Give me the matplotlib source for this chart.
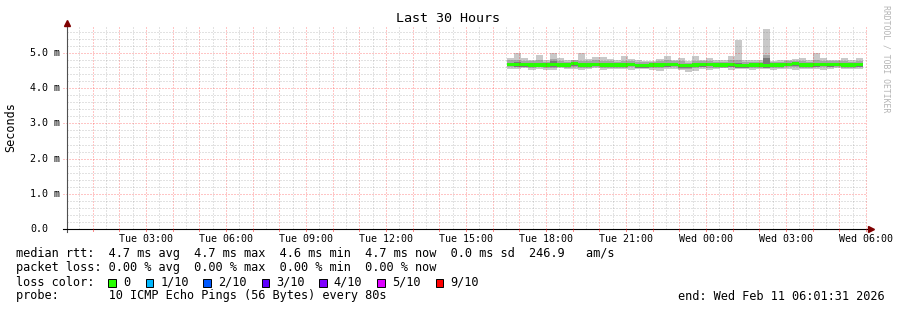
import numpy as np
import matplotlib
matplotlib.use('Agg')
import matplotlib.pyplot as plt
from matplotlib.patches import Rectangle

# smokeping "Last 30 Hours" graph, values in ms, x in hours since Tue 00:00
t_start = 0.0253          # Tue 00:01:31
t_end = 30.0253           # Wed 06:01:31
t_first = 16.54           # first consolidated row
row_h = 16 / 60.0         # 12 x 80s steps

hi = [4.88, 5.02, 4.88, 4.82, 4.96, 4.82, 5.02, 4.88, 4.82, 4.82,
      5.02, 4.84, 4.90, 4.90, 4.84, 4.80, 4.91, 4.84, 4.81, 4.78,
      4.78, 4.84, 4.93, 4.82, 4.88, 4.79, 4.91, 4.82, 4.88, 4.82,
      4.80, 4.92, 5.39, 4.81, 4.81, 4.82, 5.70, 4.79, 4.82, 4.82,
      4.84, 4.88, 4.82, 5.01, 4.88, 4.82, 4.82, 4.88, 4.82, 4.88]
lo = [4.55, 4.54, 4.57, 4.52, 4.55, 4.52, 4.52, 4.57, 4.55, 4.54,
      4.52, 4.56, 4.58, 4.52, 4.54, 4.56, 4.55, 4.52, 4.56, 4.56,
      4.52, 4.50, 4.55, 4.56, 4.52, 4.48, 4.50, 4.54, 4.52, 4.55,
      4.57, 4.52, 4.54, 4.55, 4.52, 4.56, 4.56, 4.53, 4.54, 4.56,
      4.52, 4.56, 4.54, 4.54, 4.52, 4.55, 4.57, 4.54, 4.55, 4.56]
mhi = [4.80, 4.80, 4.78, 4.77, 4.80, 4.76, 4.85, 4.78, 4.76, 4.80,
       4.78, 4.77, 4.80, 4.78, 4.77, 4.75, 4.78, 4.79, 4.75, 4.74,
       4.76, 4.78, 4.80, 4.77, 4.77, 4.73, 4.79, 4.78, 4.79, 4.76,
       4.75, 4.80, 4.80, 4.75, 4.76, 4.76, 4.95, 4.74, 4.76, 4.78,
       4.79, 4.78, 4.76, 4.80, 4.79, 4.77, 4.78, 4.78, 4.76, 4.79]
mlo = [4.60, 4.60, 4.61, 4.58, 4.60, 4.58, 4.59, 4.60, 4.59, 4.61,
       4.58, 4.59, 4.61, 4.58, 4.58, 4.59, 4.59, 4.60, 4.57, 4.57,
       4.58, 4.57, 4.60, 4.60, 4.56, 4.55, 4.58, 4.60, 4.59, 4.58,
       4.59, 4.60, 4.57, 4.57, 4.58, 4.59, 4.57, 4.58, 4.58, 4.60,
       4.61, 4.59, 4.58, 4.60, 4.60, 4.60, 4.61, 4.58, 4.58, 4.60]
dhi = [4.73, 4.74, 4.72, 4.71, 4.72, 4.71, 4.79, 4.72, 4.71, 4.74,
       4.72, 4.71, 4.73, 4.71, 4.71, 4.71, 4.72, 4.73, 4.69, 4.69,
       4.71, 4.71, 4.73, 4.73, 4.69, 4.69, 4.72, 4.73, 4.73, 4.71,
       4.71, 4.73, 4.72, 4.69, 4.71, 4.71, 4.88, 4.71, 4.71, 4.73,
       4.74, 4.71, 4.71, 4.73, 4.73, 4.73, 4.73, 4.72, 4.71, 4.73]
dlo = [4.63, 4.62, 4.62, 4.61, 4.62, 4.61, 4.62, 4.61, 4.61, 4.64,
       4.61, 4.60, 4.63, 4.61, 4.61, 4.61, 4.60, 4.63, 4.59, 4.59,
       4.60, 4.61, 4.62, 4.63, 4.59, 4.59, 4.61, 4.62, 4.63, 4.60,
       4.61, 4.62, 4.59, 4.59, 4.60, 4.61, 4.59, 4.61, 4.60, 4.63,
       4.64, 4.60, 4.61, 4.62, 4.63, 4.62, 4.63, 4.60, 4.61, 4.62]
med = [4.69, 4.69, 4.69, 4.67, 4.67, 4.67, 4.69, 4.67, 4.67, 4.70,
       4.67, 4.67, 4.69, 4.67, 4.67, 4.67, 4.67, 4.69, 4.65, 4.65,
       4.67, 4.67, 4.69, 4.69, 4.65, 4.65, 4.67, 4.69, 4.69, 4.67,
       4.67, 4.69, 4.65, 4.65, 4.67, 4.67, 4.65, 4.67, 4.67, 4.69,
       4.70, 4.67, 4.67, 4.69, 4.69, 4.69, 4.69, 4.67, 4.67, 4.69]

xtick_hours = [3, 6, 9, 12, 15, 18, 21, 24, 27, 30]
xtick_labels = ['Tue 03:00', 'Tue 06:00', 'Tue 09:00', 'Tue 12:00', 'Tue 15:00',
                'Tue 18:00', 'Tue 21:00', 'Wed 00:00', 'Wed 03:00', 'Wed 06:00']
ytick_vals = [0, 1, 2, 3, 4, 5]
ytick_labels = ['0.0', '1.0 m', '2.0 m', '3.0 m', '4.0 m', '5.0 m']

loss_labels = ['0', '1/10', '2/10', '3/10', '4/10', '5/10', '9/10']
loss_colors = ['#26ff00', '#00b8ff', '#0059ff', '#5e00ff', '#7e00ff', '#dd00ff', '#ff0000']

legend_lines = [
    'median rtt:  4.7 ms avg  4.7 ms max  4.6 ms min  4.7 ms now  0.0 ms sd  246.9   am/s',
    'packet loss: 0.00 % avg  0.00 % max  0.00 % min  0.00 % now',
    'loss color:',
    'probe:       10 ICMP Echo Pings (56 Bytes) every 80s',
]
end_text = 'end: Wed Feb 11 06:01:31 2026'

W, H = 897, 310
MONO = 'DejaVu Sans Mono'


def fx(x):
    return x / W


def fy(y):
    return 1 - y / H


fig = plt.figure(figsize=(W / 100, H / 100), dpi=100)
ax_l, ax_r, ax_b, ax_t = 66.7, 866.7, 228.7, 27.0
ax = fig.add_axes([fx(ax_l), fy(ax_b), (ax_r - ax_l) / W, (ax_b - ax_t) / H])
ax.set_xlim(t_start, t_end)
ax.set_ylim(0, 5.75)
for s in ax.spines.values():
    s.set_visible(False)
ax.set_xticks([])
ax.set_yticks([])

# smoke + median
t = t_first + row_h * np.arange(len(med))
hi, lo, mhi, mlo = map(np.array, (hi, lo, mhi, mlo))
dhi, dlo, med = map(np.array, (dhi, dlo, med))
kw = dict(width=row_h, align='edge', linewidth=0, antialiased=False, zorder=2)
ax.bar(t, hi - lo, bottom=lo, color='#c9c9c9', **kw)
ax.bar(t, mhi - mlo, bottom=mlo, color='#a6a6a6', **kw)
ax.bar(t, dhi - dlo, bottom=dlo, color='#7a7a7a', **kw)
band = 3.3 / 35.08
ax.bar(t, np.full(len(med), band), bottom=med - band / 2, color=loss_colors[0], **kw)

# dotted grid, drawn over the data like rrdtool does
minor_c = (0.5, 0.5, 0.5, 0.45)
major_c = (1.0, 0.0, 0.0, 0.45)
gkw = dict(linewidth=0.72, linestyle=(0, (1, 2)), zorder=3)
for h in np.arange(0.5, 30.5, 1.0):
    ax.axvline(h, color=minor_c, **gkw)
for h in range(1, 31):
    ax.axvline(h, color=major_c, **gkw)
for v in np.arange(0.2, 5.75, 0.2):
    if abs(v - round(v)) > 1e-6:
        ax.axhline(v, color=minor_c, **gkw)
for v in range(1, 6):
    ax.axhline(v, xmin=-0.005, color=major_c, clip_on=False, **gkw)

# axes with arrows
ax.plot([0, 0], [-0.015, 1.02], transform=ax.transAxes, color='#505050',
        lw=0.8, clip_on=False, zorder=4)
ax.plot([-0.005, 1.005], [0, 0], transform=ax.transAxes, color='#000000',
        lw=0.8, clip_on=False, zorder=4)
ax.plot([0], [1.02], marker='^', ms=4, color='#7f0000', transform=ax.transAxes,
        clip_on=False, zorder=5)
ax.plot([1.005], [0], marker='>', ms=4, color='#7f0000', transform=ax.transAxes,
        clip_on=False, zorder=5)
for h in range(1, 31):
    ax.plot([h, h], [0, -0.012], transform=ax.get_xaxis_transform(),
            color=major_c, lw=0.72, clip_on=False, zorder=4)

# tick labels
bx_tr = matplotlib.transforms.blended_transform_factory(ax.transData, fig.transFigure)
by_tr = matplotlib.transforms.blended_transform_factory(fig.transFigure, ax.transData)
for h, lab in zip(xtick_hours, xtick_labels):
    ax.text(h, fy(238.5), lab, transform=bx_tr, ha='center', va='center',
            family=MONO, fontsize=7.2, color='#000000')
for v, lab in zip(ytick_vals, ytick_labels):
    ax.text(fx(30), v, lab, transform=by_tr, ha='left', va='center',
            family=MONO, fontsize=7.2, color='#000000')

fig.text(fx(448), fy(19), 'Last 30 Hours', ha='center', va='center',
         family=MONO, fontsize=9.6)
fig.text(fx(11), fy(127), 'Seconds', ha='center', va='center', rotation=90,
         family=MONO, fontsize=8.5)
fig.text(fx(886), fy(5), 'RRDTOOL / TOBI OETIKER', ha='center', va='top',
         rotation=-90, family=MONO, fontsize=5.9, color='#b4b4b4')

# legend block
for i, line in enumerate(legend_lines):
    fig.text(fx(16), fy(254 + 14 * i), line, ha='left', va='center',
             family=MONO, fontsize=8.55)
fig.text(fx(678), fy(296), end_text, ha='left', va='center',
         family=MONO, fontsize=8.55)

box_x = [108.3, 145.7, 203.3, 261.7, 319.3, 377.3, 435.7]
for bx, lab, col in zip(box_x, loss_labels, loss_colors):
    fig.patches.append(Rectangle((fx(bx), fy(286.5)), 7.5 / W, 8 / H,
                                 transform=fig.transFigure, facecolor=col,
                                 edgecolor='#000000', linewidth=0.7))
    fig.text(fx(bx + 14.5), fy(282), lab, ha='left', va='center',
             family=MONO, fontsize=8.55)

fig.savefig('out.png', dpi=100, facecolor='white')
